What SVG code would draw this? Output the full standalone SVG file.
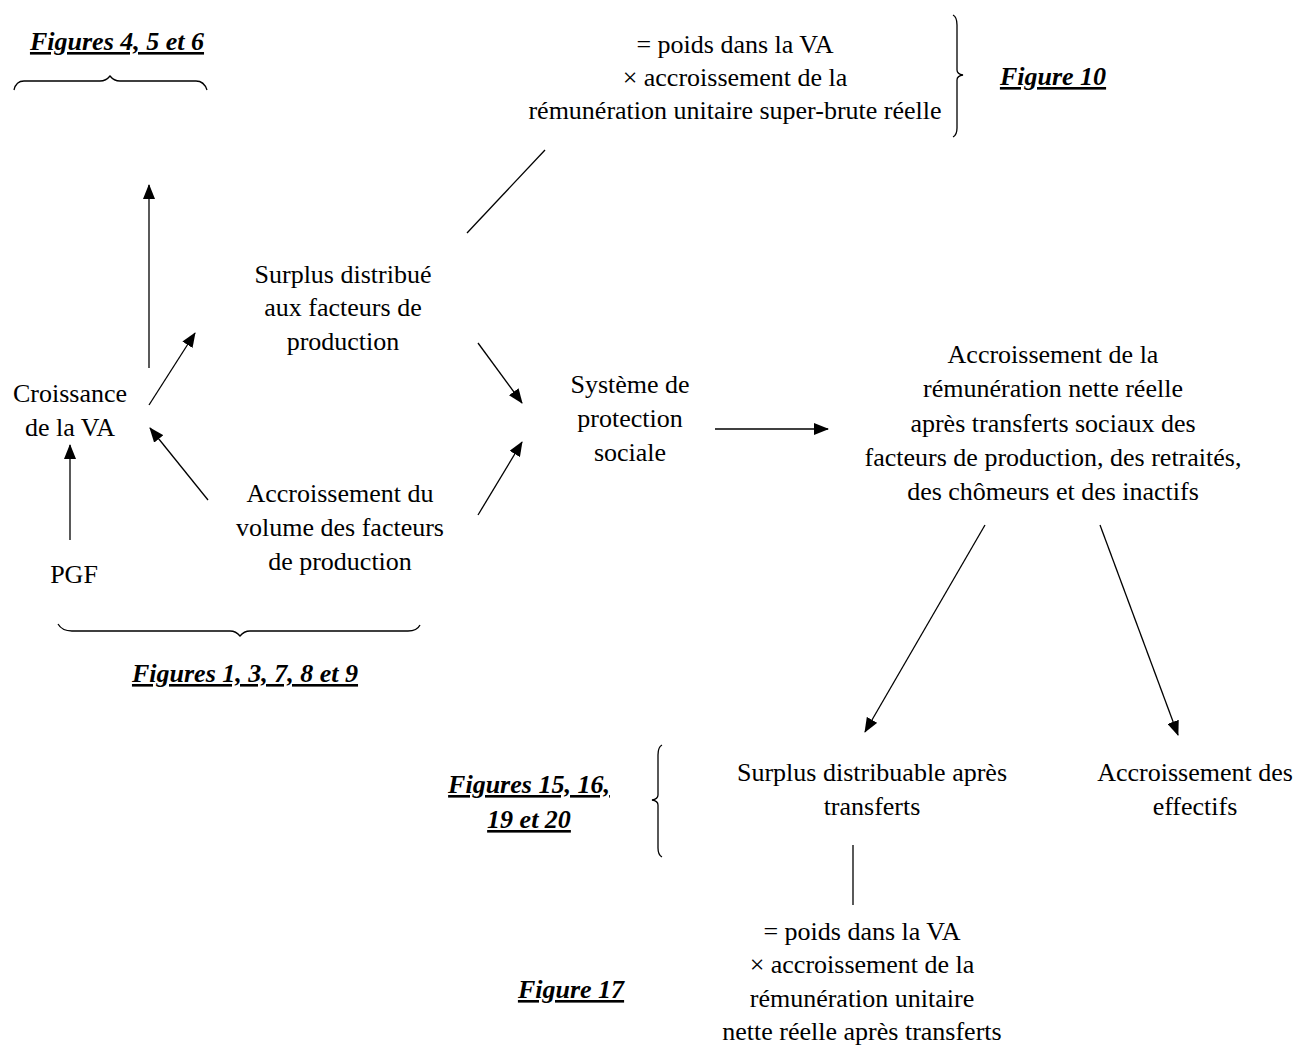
<svg xmlns="http://www.w3.org/2000/svg" width="1298" height="1050" viewBox="0 0 1298 1050">
<style>
text{font-family:"Liberation Serif","Times New Roman",serif;font-size:26px;fill:#000;text-anchor:middle}
.fig{font-weight:bold;font-style:italic;text-decoration:underline}
.ln{stroke:#000;stroke-width:1.3;fill:none}
.ar{stroke:#000;stroke-width:1.3;fill:none;marker-end:url(#ah)}
</style>
<defs>
<marker id="ah" markerUnits="userSpaceOnUse" markerWidth="16" markerHeight="12" refX="14" refY="6" orient="auto">
<path d="M0,0 L15,6 L0,12 Z" fill="#000"/>
</marker>
</defs>
<rect width="1298" height="1050" fill="#fff"/>
<g id="connectors">
<line class="ar" x1="149" y1="368" x2="149" y2="185"/>
<line class="ar" x1="70" y1="540" x2="70" y2="445"/>
<line class="ar" x1="149" y1="405" x2="195" y2="333"/>
<line class="ar" x1="208" y1="500" x2="150" y2="428"/>
<line class="ar" x1="478" y1="343" x2="522" y2="403"/>
<line class="ar" x1="478" y1="515" x2="522" y2="442"/>
<line class="ar" x1="715" y1="429" x2="828" y2="429"/>
<line class="ar" x1="985" y1="525" x2="865" y2="732"/>
<line class="ar" x1="1100" y1="525" x2="1178" y2="735"/>
<line class="ln" x1="467" y1="233" x2="545" y2="150"/>
<line class="ln" x1="853" y1="845" x2="853" y2="905"/>
</g>
<g id="brace-top">
<path class="ln" d="M14,90 Q16,81 24,81 L100,81 Q106,81 110,76 Q114,81 120,81 L196,81 Q204,81 207,90"/>
</g>
<g id="brace-bottom">
<path class="ln" d="M58,624 Q62,631 72,631 L230,631 Q236,631 240,636 Q244,631 250,631 L408,631 Q417,631 420,625"/>
</g>
<g id="brace-fig10">
<path class="ln" d="M953,15 Q957,17 957,25 L957,70 Q957,74 963,75 Q957,76 957,80 L957,128 Q957,135 953,137"/>
</g>
<g id="brace-fig15">
<path class="ln" d="M662,745 Q658,747 658,755 L658,795 Q658,799 652,800 Q658,801 658,805 L658,848 Q658,855 662,857"/>
</g>
<g id="fig456"><text class="fig" x="117" y="50">Figures 4, 5 et 6</text></g>
<g id="fig10"><text class="fig" x="1053" y="85">Figure 10</text></g>
<g id="fig1"><text class="fig" x="245" y="682">Figures 1, 3, 7, 8 et 9</text></g>
<g id="fig15"><text class="fig" x="529" y="793">Figures 15, 16,</text><text class="fig" x="529" y="828">19 et 20</text></g>
<g id="fig17"><text class="fig" x="571" y="998">Figure 17</text></g>
<g id="poids-top">
<text x="735" y="53">= poids dans la VA</text>
<text x="735" y="86">× accroissement de la</text>
<text x="735" y="119">rémunération unitaire super-brute réelle</text>
</g>
<g id="croissance"><text x="70" y="402">Croissance</text><text x="70" y="436">de la VA</text></g>
<g id="pgf"><text x="74" y="583">PGF</text></g>
<g id="surplus"><text x="343" y="283">Surplus distribué</text><text x="343" y="316">aux facteurs de</text><text x="343" y="350">production</text></g>
<g id="volume"><text x="340" y="502">Accroissement du</text><text x="340" y="536">volume des facteurs</text><text x="340" y="570">de production</text></g>
<g id="protection"><text x="630" y="393">Système de</text><text x="630" y="427">protection</text><text x="630" y="461">sociale</text></g>
<g id="remuneration">
<text x="1053" y="363">Accroissement de la</text>
<text x="1053" y="397">rémunération nette réelle</text>
<text x="1053" y="432">après transferts sociaux des</text>
<text x="1053" y="466">facteurs de production, des retraités,</text>
<text x="1053" y="500">des chômeurs et des inactifs</text>
</g>
<g id="surplus-apres"><text x="872" y="781">Surplus distribuable après</text><text x="872" y="815">transferts</text></g>
<g id="effectifs"><text x="1195" y="781">Accroissement des</text><text x="1195" y="815">effectifs</text></g>
<g id="poids-bottom">
<text x="862" y="940">= poids dans la VA</text>
<text x="862" y="973">× accroissement de la</text>
<text x="862" y="1007">rémunération unitaire</text>
<text x="862" y="1040">nette réelle après transferts</text>
</g>
</svg>
